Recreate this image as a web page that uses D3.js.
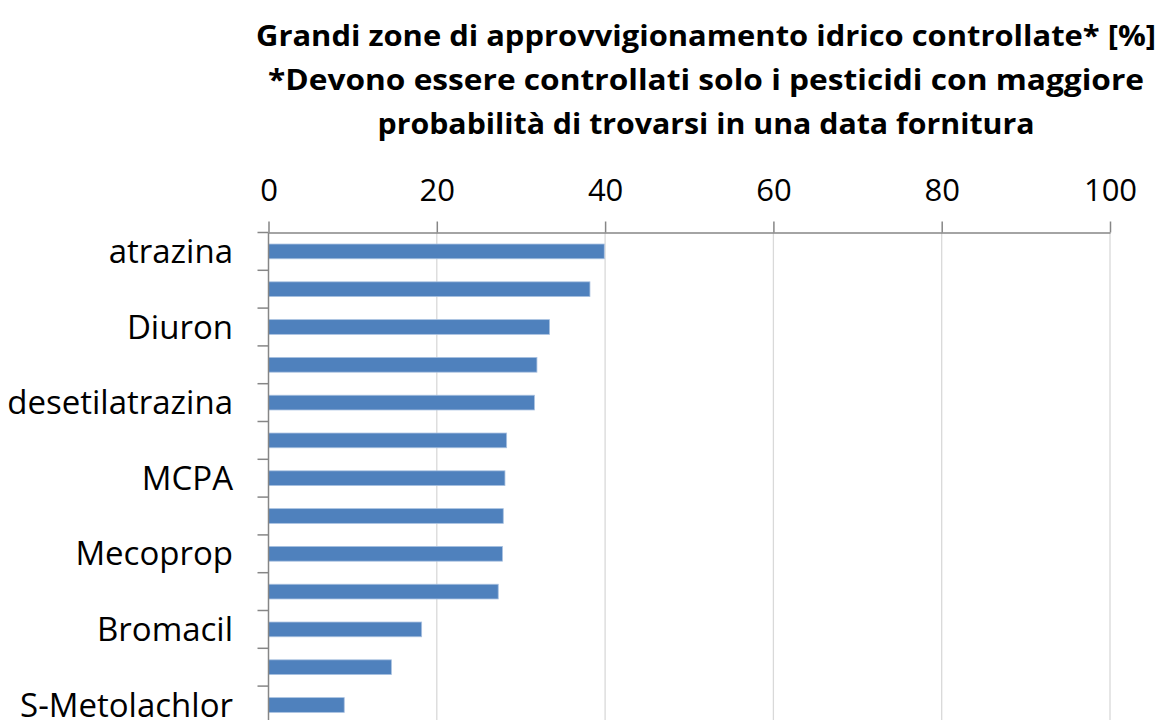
<!DOCTYPE html>
<html>
<head>
<meta charset="utf-8">
<script src="https://cdn.jsdelivr.net/npm/d3@7"></script>
<style>
  body { margin: 0; background: #fff; }
  svg { display: block; }
  .title { font-family: "Open Sans", sans-serif; font-weight: bold; font-size: 29px; fill: #000; }
  .tick_lbl { font-family: "Open Sans", sans-serif; font-size: 31px; fill: #000; }
  .cat_lbl { font-family: "Open Sans", sans-serif; font-size: 33px; fill: #000; }
</style>
</head>
<body>
<svg id="chart" width="1162" height="720"></svg>
<script>
// categories (only every other one carries a label in the chart)
var categories = ['atrazina', '', 'Diuron', '', 'desetilatrazina', '', 'MCPA', '', 'Mecoprop', '', 'Bromacil', '', 'S-Metolachlor'];
var values = [39.9, 38.2, 33.4, 31.9, 31.6, 28.3, 28.1, 27.9, 27.8, 27.3, 18.2, 14.6, 9.0];
var xTicks = [0, 20, 40, 60, 80, 100];
var titleLines = [
  'Grandi zone di approvvigionamento idrico controllate* [%]',
  '*Devono essere controllati solo i pesticidi con maggiore',
  'probabilità di trovarsi in una data fornitura'
];
var titleWidths = [900, 876, 657];

var svg = d3.select('#chart');
var plotLeft = 268.5, plotRight = 1110, plotTop = 232.5, step = 37.8;

var x = d3.scaleLinear().domain([0, 100]).range([plotLeft, plotRight]);
var y = d3.scaleBand()
  .domain(d3.range(categories.length))
  .range([plotTop, plotTop + step * categories.length])
  .paddingInner(0.61)
  .paddingOuter(0.305);

// title
svg.selectAll('text.title')
  .data(titleLines)
  .enter().append('text')
  .attr('class', 'title')
  .attr('x', 706)
  .attr('y', function(d, i) { return 46 + i * 44; })
  .attr('text-anchor', 'middle')
  .attr('textLength', function(d, i) { return titleWidths[i]; })
  .attr('lengthAdjust', 'spacingAndGlyphs')
  .text(function(d) { return d; });

// gridlines
svg.selectAll('line.grid')
  .data(xTicks.slice(1))
  .enter().append('line')
  .attr('class', 'grid')
  .attr('x1', function(d) { return x(d); })
  .attr('x2', function(d) { return x(d); })
  .attr('y1', plotTop)
  .attr('y2', 720)
  .attr('stroke', '#d9d9d9')
  .attr('stroke-width', 1.3);

// top axis
var xAxis = d3.axisTop(x).tickValues(xTicks).tickSize(11).tickSizeOuter(0).tickPadding(10);
var gx = svg.append('g')
  .attr('transform', 'translate(0,' + plotTop + ')')
  .call(xAxis);
gx.attr('font-family', null).attr('font-size', null);
gx.select('.domain').attr('stroke', '#868686').attr('stroke-width', 1.5);
gx.selectAll('.tick line').attr('stroke', '#868686').attr('stroke-width', 1.5);
gx.selectAll('.tick text')
  .attr('class', 'tick_lbl')
  .attr('fill', null)
  .attr('dy', '-0.35em');

// bars
svg.selectAll('rect.bar')
  .data(values)
  .enter().append('rect')
  .attr('class', 'bar')
  .attr('x', x(0))
  .attr('y', function(d, i) { return y(i); })
  .attr('width', function(d) { return x(d) - x(0); })
  .attr('height', y.bandwidth())
  .attr('fill', '#4f81bd')
  .attr('stroke', '#a9c1e0')
  .attr('stroke-width', 0.8);

// left axis line and category ticks
svg.append('line')
  .attr('x1', plotLeft).attr('x2', plotLeft)
  .attr('y1', plotTop).attr('y2', 720)
  .attr('stroke', '#868686')
  .attr('stroke-width', 1.5);
svg.selectAll('line.cat_tick')
  .data(d3.range(categories.length + 1))
  .enter().append('line')
  .attr('class', 'cat_tick')
  .attr('x1', plotLeft - 11).attr('x2', plotLeft)
  .attr('y1', function(i) { return plotTop + i * y.step(); })
  .attr('y2', function(i) { return plotTop + i * y.step(); })
  .attr('stroke', '#868686')
  .attr('stroke-width', 1.5);

// category labels
svg.selectAll('text.cat_lbl')
  .data(categories)
  .enter().append('text')
  .attr('class', 'cat_lbl')
  .attr('x', 233)
  .attr('y', function(d, i) { return y(i) + y.bandwidth() / 2; })
  .attr('dy', '0.35em')
  .attr('text-anchor', 'end')
  .text(function(d) { return d; });
</script>
</body>
</html>
